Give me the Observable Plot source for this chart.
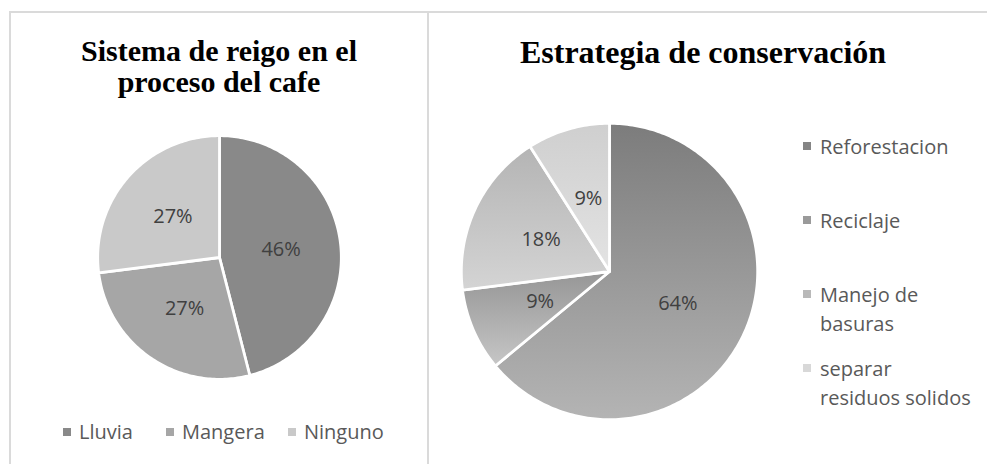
<!DOCTYPE html>
<html><head><meta charset="utf-8">
<script src="https://cdn.jsdelivr.net/npm/d3@7"></script>
<script src="https://cdn.jsdelivr.net/npm/@observablehq/plot@0.6"></script>
<style>
body{margin:0;background:#fff;}
#chart{position:relative;width:987px;height:464px;overflow:hidden;background:#fff;font-family:"Open Sans",sans-serif;}
.frame{position:absolute;background:#dadada;}
.title{position:absolute;font-family:"Liberation Serif","Times New Roman",serif;font-weight:bold;color:#000;text-align:center;white-space:nowrap;}
.leg{position:absolute;font-size:20px;line-height:29px;color:#595959;white-space:nowrap;}
.sw{position:absolute;width:8px;height:8px;}
.pie{position:absolute;}
</style></head><body><div id="chart"></div>
<script>
// ---- data ----
const riegoTitle = ["Sistema de reigo en el", "proceso del cafe"];
const riegoCategories = ["Lluvia", "Mangera", "Ninguno"];
const riegoValues = [46, 27, 27];
const riegoColors = ["#898989", "#a6a6a6", "#c9c9c9"];

const consTitle = "Estrategia de conservación";
const consCategories = ["Reforestacion", "Reciclaje", "Manejo de basuras", "separar residuos solidos"];
const consLegendLines = [["Reforestacion"], ["Reciclaje"], ["Manejo de", "basuras"], ["separar", "residuos solidos"]];
const consValues = [64, 9, 18, 9];
const consTop = ["#7c7c7c", "#969696", "#b4b4b4", "#cfcfcf"];
const consBottom = ["#b4b4b4", "#c6c6c6", "#d4d4d4", "#e3e3e3"];
const consSwatch = ["#858585", "#9a9a9a", "#b9b9b9", "#d8d8d8"];

const chart = document.getElementById("chart");
function el(tag, cls, style, text) {
  const e = document.createElement(tag);
  if (cls) e.className = cls;
  Object.assign(e.style, style || {});
  if (text != null) e.textContent = text;
  chart.appendChild(e);
  return e;
}

// frame lines
el("div", "frame", {left: "9px", top: "11px", width: "978px", height: "2px"});
el("div", "frame", {left: "9px", top: "11px", width: "2px", height: "453px"});
el("div", "frame", {left: "427px", top: "11px", width: "2px", height: "453px"});

// titles
const lt = el("div", "title", {left: "10px", top: "35px", width: "418px", fontSize: "30px", lineHeight: "31px"});
lt.innerHTML = riegoTitle.join("<br>");
el("div", "title", {left: "429px", top: "36px", width: "548px", fontSize: "32px", lineHeight: "32px"}, consTitle);

function pieData(cats, vals) {
  const arcs = d3.pie().sort(null).value(d => d.v)(cats.map((c, i) => ({c, v: vals[i], i})));
  const pts = [];
  for (const a of arcs) {
    pts.push({key: a.data.c, i: a.data.i, x: 0, y: 0});
    const n = Math.max(2, Math.ceil((a.endAngle - a.startAngle) / (Math.PI / 180)));
    for (let k = 0; k <= n; k++) {
      const t = a.startAngle + (a.endAngle - a.startAngle) * k / n;
      pts.push({key: a.data.c, i: a.data.i, x: Math.sin(t), y: Math.cos(t)});
    }
  }
  const labels = arcs.map(a => {
    const m = (a.startAngle + a.endAngle) / 2;
    return {x: 0.51 * Math.sin(m), y: 0.51 * Math.cos(m), text: a.data.v + "%"};
  });
  return {pts, labels};
}

function pie(cats, vals, size, fillFn) {
  const {pts, labels} = pieData(cats, vals);
  return Plot.plot({
    width: size, height: size, margin: 0,
    x: {domain: [-1.1, 1.1], axis: null},
    y: {domain: [-1.1, 1.1], axis: null},
    color: {type: "identity"},
    style: {background: "transparent", overflow: "visible"},
    marks: [
      Plot.line(pts, {x: "x", y: "y", z: "key", fill: fillFn, stroke: "white", strokeWidth: 2.8, curve: "linear-closed"}),
      Plot.text(labels, {x: "x", y: "y", text: "text", fill: "#404040", fontSize: 20, fontFamily: "Open Sans"})
    ]
  });
}

// left pie
const p1 = pie(riegoCategories, riegoValues, 268, d => riegoColors[d.i]);
p1.classList.add("pie");
Object.assign(p1.style, {left: "85px", top: "123px"});
chart.appendChild(p1);

// right pie with gradients
const p2 = pie(consCategories, consValues, 326, d => `url(#consGrad${d.i})`);
const defs = d3.select(p2).insert("defs", ":first-child");
consCategories.forEach((c, i) => {
  const g = defs.append("linearGradient").attr("id", "consGrad" + i)
    .attr("x1", 0).attr("y1", 0).attr("x2", 0).attr("y2", 1);
  g.append("stop").attr("offset", 0).attr("stop-color", consTop[i]);
  g.append("stop").attr("offset", 1).attr("stop-color", consBottom[i]);
});
p2.classList.add("pie");
Object.assign(p2.style, {left: "446px", top: "108px"});
chart.appendChild(p2);

// left legend (horizontal, bottom)
const leftLegX = [63, 166, 288];
riegoCategories.forEach((c, i) => {
  el("div", "sw", {left: leftLegX[i] + "px", top: "428px", background: riegoColors[i]});
  el("div", "leg", {left: (leftLegX[i] + 16) + "px", top: "417px"}, c);
});

// right legend (vertical)
const rightLegY = [146, 220, 294, 368];
consLegendLines.forEach((lines, i) => {
  el("div", "sw", {left: "803px", top: (rightLegY[i] - 4) + "px", background: consSwatch[i]});
  const t = el("div", "leg", {left: "820px", top: (rightLegY[i] - 14.5) + "px"});
  t.innerHTML = lines.join("<br>");
});
</script>
</body></html>
